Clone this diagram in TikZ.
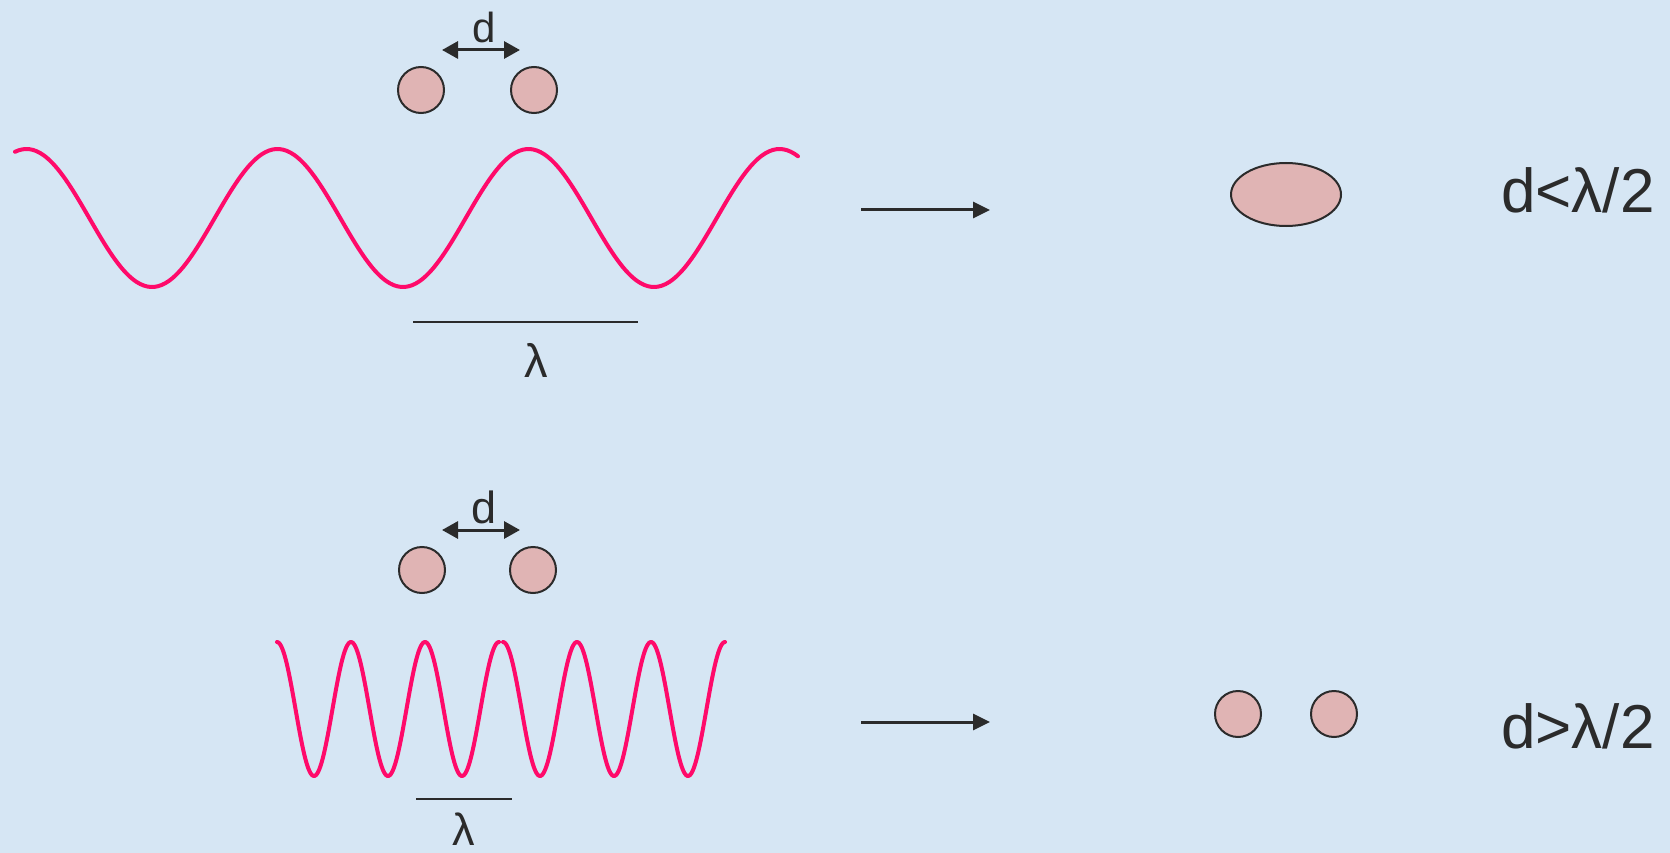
\documentclass[tikz,border=0pt]{standalone}
\usepackage{fontspec}
\setmainfont{Liberation Sans}
\usetikzlibrary{arrows.meta,shapes.geometric}
\definecolor{bg}{HTML}{D6E6F4}
\definecolor{atom}{HTML}{E0B4B4}
\definecolor{wave}{HTML}{FF0A6A}
\definecolor{ink}{HTML}{2B2B2B}
\begin{document}
\begin{tikzpicture}[x=1pt,y=-1pt,
  atomstyle/.style={circle,draw=ink,fill=atom,line width=2pt,minimum size=46pt,inner sep=0pt},
  blobstyle/.style={ellipse,draw=ink,fill=atom,line width=2pt,minimum width=110pt,minimum height=63pt,inner sep=0pt},
  wavestyle/.style={draw=wave,line width=4pt,line join=round,line cap=round},
  gostyle/.style={draw=ink,line width=3pt,-{Triangle[length=17pt,width=16pt]}},
  dstyle/.style={draw=ink,line width=3pt,{Triangle[length=16pt,width=17pt]}-{Triangle[length=16pt,width=17pt]}},
  lamline/.style={draw=ink,line width=2pt},
  smalltxt/.style={text=ink,anchor=base,inner sep=0pt},
  bigtxt/.style={text=ink,anchor=base west,inner sep=0pt,font=\fontsize{62}{70}\selectfont}]
\fill[bg] (0,0) rectangle (1670,853);
\useasboundingbox (0,0) rectangle (1670,853);

% ---------- top row ----------
\node[smalltxt,font=\fontsize{42}{50}\selectfont] (dtop) at (484,43) {d};
\coordinate (dta) at (442,50);
\coordinate (dtb) at (520,50);
\draw[dstyle] (dta) -- (dtb);
\node[atomstyle] (a1) at (421,90) {};
\node[atomstyle] (a2) at (534,90) {};
\draw[wavestyle] plot[domain=15:798,samples=220,smooth] (\x,{218+69*cos(1.434263*(\x-152))});
\coordinate (lta) at (413,322);
\coordinate (ltb) at (638,322);
\draw[lamline] (lta) -- (ltb);
\node[smalltxt,font=\fontsize{47}{55}\selectfont] (ltop) at (536,377) {λ};
\coordinate (gta) at (861,210);
\coordinate (gtb) at (990,210);
\draw[gostyle] (gta) -- (gtb);
\node[blobstyle] (blob) at (1286,194.5) {};
\node[bigtxt] (rtop) at (1501,212) {d<λ/2};

% ---------- bottom row ----------
\node[smalltxt,font=\fontsize{45}{52}\selectfont] (dbot) at (484,523) {d};
\coordinate (dba) at (442,530);
\coordinate (dbb) at (520,530);
\draw[dstyle] (dba) -- (dbb);
\node[atomstyle] (b1) at (422,570) {};
\node[atomstyle] (b2) at (533,570) {};
\draw[wavestyle] plot[domain=277:499,samples=200,smooth] (\x,{709-67*cos(4.864865*(\x-277))});
\draw[wavestyle] plot[domain=503:725,samples=200,smooth] (\x,{709-67*cos(4.864865*(\x-503))});
\coordinate (lba) at (416,799);
\coordinate (lbb) at (512,799);
\draw[lamline] (lba) -- (lbb);
\node[smalltxt,font=\fontsize{45}{52}\selectfont] (lbot) at (464,845) {λ};
\coordinate (gba) at (861,722);
\coordinate (gbb) at (990,722);
\draw[gostyle] (gba) -- (gbb);
\node[atomstyle] (c1) at (1238,714) {};
\node[atomstyle] (c2) at (1334,714) {};
\node[bigtxt] (rbot) at (1501,748) {d>λ/2};
\end{tikzpicture}
\end{document}
